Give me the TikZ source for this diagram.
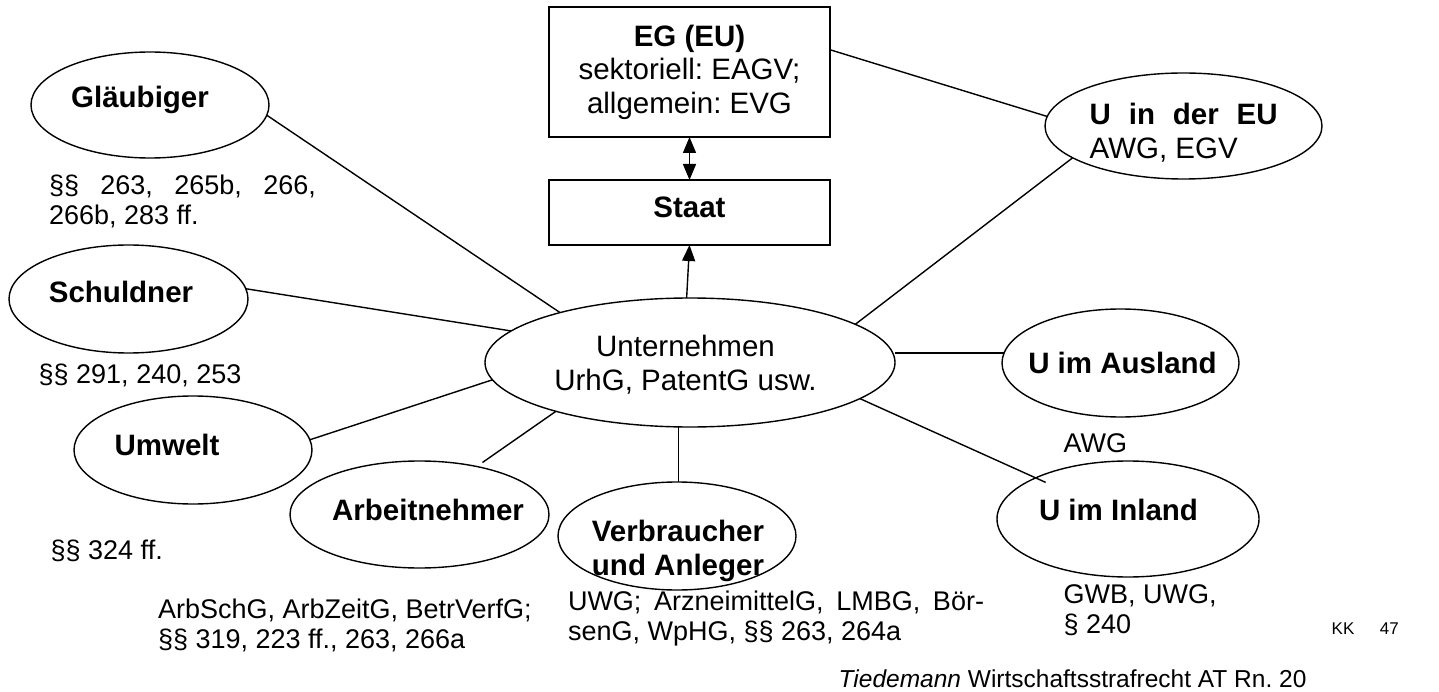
\documentclass[tikz,border=0pt]{standalone}
\usepackage{fontspec}
\setmainfont{Liberation Sans}
\usetikzlibrary{shapes.geometric,arrows.meta}
\frenchspacing

\begin{document}
\begin{tikzpicture}[x=1pt,y=-1pt,>={Triangle[length=16pt,width=13pt]},line width=1.4pt,
  oval/.style={draw,ellipse,inner sep=0pt,outer sep=0pt},
  kasten/.style={draw,rectangle,inner sep=0pt,outer sep=0pt,minimum width=281pt},
  gross/.style={font={\fontsize{29.5}{33.5}\selectfont},inner sep=0pt,align=center},
  klein/.style={font={\fontsize{27}{30}\selectfont},inner sep=0pt,anchor=base west,align=left}]
  \useasboundingbox (0,0) rectangle (1439,692);

  % The boxes
  \node[kasten,gross,minimum height=130pt] (eg) at (689.5,72)
    {\textbf{EG (EU)}\\sektoriell: EAGV;\\allgemein: EVG};
  \node[kasten,gross,minimum height=65pt,text depth=10pt] (staat) at (689.5,212.5) {\textbf{Staat}};

  % The ellipses
  \foreach \n/\x/\y/\w/\h in {glaeubiger/150/105/238pt/106pt, schuldner/128.5/299/239pt/108pt,
    umwelt/193/450/238pt/108pt, arbeitnehmer/419.5/514.5/259pt/107pt,
    verbraucher/677/536/238pt/108pt, unternehmen/690/362.5/410pt/129pt,
    ineu/1183.5/126/277pt/106pt, ausland/1120.5/363/237pt/108pt, inland/1128/519/262pt/116pt}
    \node[oval,minimum width=\w,minimum height=\h] (\n) at (\x,\y) {};

  % The labels in the ellipses (base = last line)
  \node[gross,anchor=base] (t-glaeubiger) at (140,108) {\textbf{Gläubiger}};
  \node[gross,anchor=base] (t-schuldner) at (121,303) {\textbf{Schuldner}};
  \node[gross,anchor=base] (t-umwelt) at (167,455) {\textbf{Umwelt}};
  \node[gross,anchor=base] (t-arbeitnehmer) at (428,520) {\textbf{Arbeitnehmer}};
  \node[gross,anchor=base] (t-verbraucher) at (678,575) {\textbf{Verbraucher}\\\textbf{und Anleger}};
  \node[gross,anchor=base] (t-unternehmen) at (685.5,390) {Unternehmen\\UrhG, PatentG usw.};
  \node[gross,anchor=base west,text width=188pt,align=justify] (t-ineu) at (1089,125)
    {\textbf{U in der EU}\linebreak AWG, EGV};
  \node[gross,anchor=base] (t-ausland) at (1122.5,373) {\textbf{U im Ausland}};
  \node[gross,anchor=base] (t-inland) at (1118.5,520) {\textbf{U im Inland}};

  % The connections
  \foreach \a/\b in {glaeubiger.-5/unternehmen.159, schuldner.5/unternehmen.170,
    umwelt.5/unternehmen.-175, unternehmen.13/ineu.-164, eg.9/ineu.176}
    \draw (\a) -- (\b);
  \draw[shorten >=7pt] (unternehmen.-160) -- (arbeitnehmer.40);
  \draw (unternehmen.-100) -- (unternehmen.-100 |- verbraucher.north);
  \draw (unternehmen.east |- ausland.175) -- (ausland.175);
  \draw[shorten >=-11pt] (unternehmen.-12) -- (inland.156);
  \draw[<->] (eg.south) -- (staat.north);
  \draw[->] (unternehmen.93) -- (staat.south);

  % The notes
  \node[klein,text width=267pt,align=justify] (n-glaeubiger) at (48.3,195)
    {§§ 263, 265b, 266,\linebreak 266b, 283 ff.};
  \node[klein] (n-schuldner) at (38,383) {§§ 291, 240, 253};
  \node[klein] (n-umwelt) at (50,559) {§§ 324 ff.};
  \node[klein] (n-arbeitnehmer) at (157.3,648) {ArbSchG, ArbZeitG, BetrVerfG;\\§§ 319, 223 ff., 263, 266a};
  \node[klein,text width=416pt,align=justify] (n-verbraucher) at (567.3,610)
    {UWG; ArzneimittelG, LMBG, Bör-\linebreak senG, WpHG, §§ 263, 264a};
  \node[klein] (n-ausland) at (1063,452) {AWG};
  \node[klein] (n-inland) at (1063,633) {GWB, UWG,\\§ 240};
  \node[klein,font={\fontsize{24.5}{28}\selectfont}] (quelle) at (838,687)
    {\textit{Tiedemann} Wirtschaftsstrafrecht AT Rn. 20};
  \node[klein,font={\fontsize{17}{20}\selectfont}] (kk) at (1331,634) {KK\hspace{1.5em}47};
\end{tikzpicture}
\end{document}
